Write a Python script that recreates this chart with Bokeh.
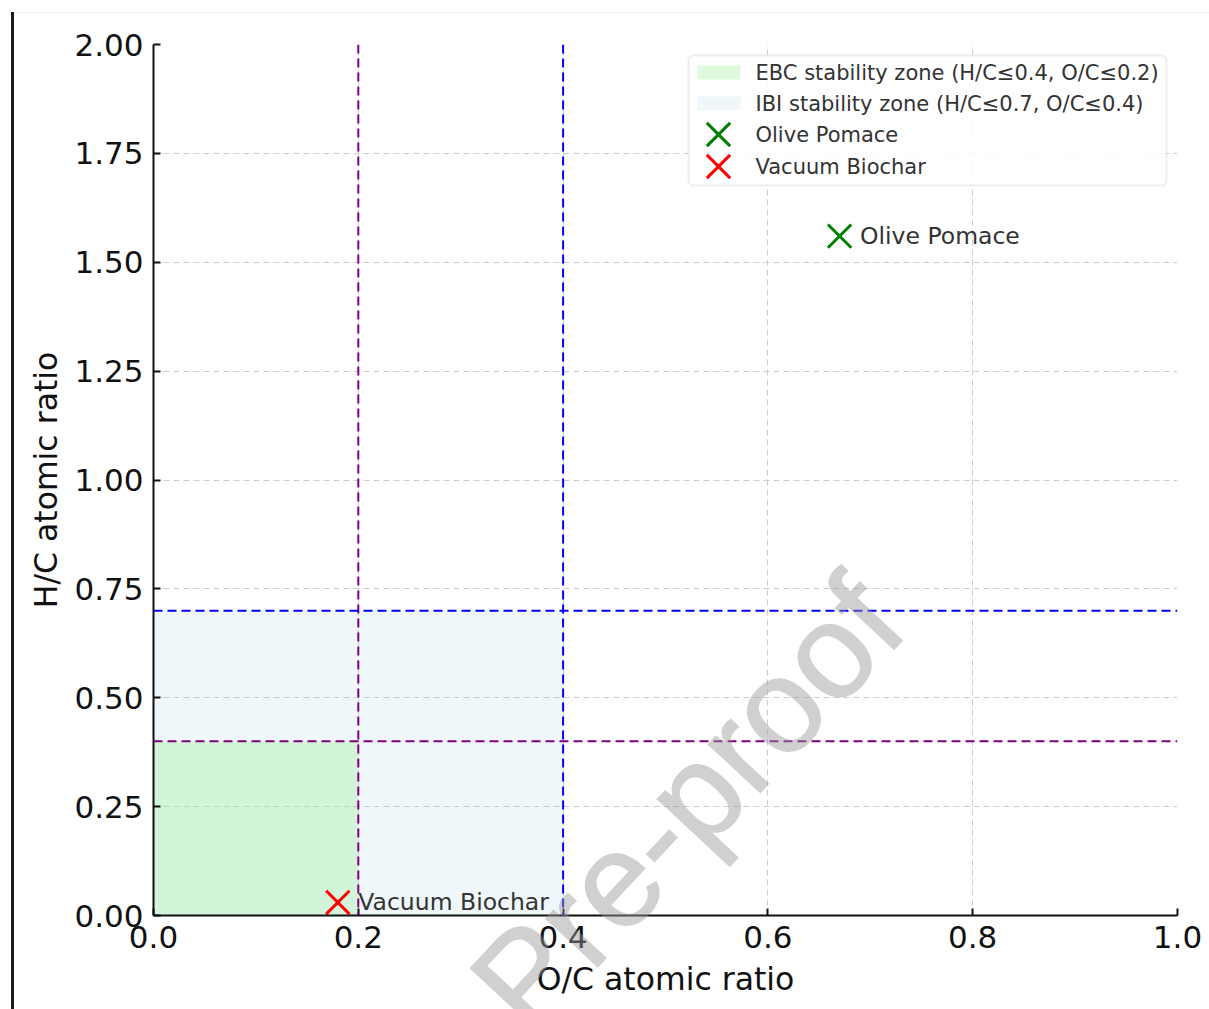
from bokeh.plotting import figure
from bokeh.models import (Span, Label, BoxAnnotation, FixedTicker, Range1d, Div,
                          GridBox, CustomJSTickFormatter)
from bokeh.embed import file_html
from bokeh.resources import INLINE
from bokeh.core.properties import value

# --- data -------------------------------------------------------------
samples = ["Olive Pomace", "Vacuum Biochar"]
oc_ratio = [0.67, 0.18]
hc_ratio = [1.56, 0.03]
sample_colors = ["green", "red"]

zone_names = ["EBC stability zone (H/C\u22640.4, O/C\u22640.2)",
              "IBI stability zone (H/C\u22640.7, O/C\u22640.4)"]
zone_oc_max = [0.2, 0.4]
zone_hc_max = [0.4, 0.7]
zone_fill = ["lightgreen", "lightblue"]
zone_alpha = [0.3, 0.2]
zone_line = ["purple", "blue"]

x_ticks = [0.0, 0.2, 0.4, 0.6, 0.8, 1.0]
y_ticks = [0.0, 0.25, 0.5, 0.75, 1.0, 1.25, 1.5, 1.75, 2.0]

FONT = "DejaVu Sans"
TEXT_DARK = "#333333"

# --- frame geometry (pixels inside the figure canvas) --------------------
FIG_W, FIG_H = 1209, 1009
B_LEFT, B_RIGHT, B_TOP, B_BOTTOM = 153, 32, 44, 94
FRAME_W = FIG_W - B_LEFT - B_RIGHT
FRAME_H = FIG_H - B_TOP - B_BOTTOM
X0, X1, Y0, Y1 = 0.0, 1.0, 0.0, 2.0


def fx(px):
    """horizontal pixel offset from frame left -> data x"""
    return X0 + px / FRAME_W * (X1 - X0)


def fy(py):
    """vertical pixel offset from frame top -> data y"""
    return Y1 - py / FRAME_H * (Y1 - Y0)


p = figure(width=FIG_W, height=FIG_H,
           x_range=Range1d(X0, X1), y_range=Range1d(Y0, Y1),
           output_backend="svg", toolbar_location=None,
           min_border_left=B_LEFT, min_border_right=B_RIGHT,
           min_border_top=B_TOP, min_border_bottom=B_BOTTOM,
           background_fill_color="white", border_fill_color="white",
           outline_line_color=None)

# axes
for ax in (p.xaxis[0], p.yaxis[0]):
    ax.axis_line_color = "#111111"
    ax.axis_line_width = 2
    ax.major_tick_in = 7
    ax.major_tick_out = 0
    ax.major_tick_line_width = 2
    ax.major_tick_line_color = "#111111"
    ax.minor_tick_line_color = None
    ax.major_label_text_font = FONT
    ax.major_label_text_font_size = "31px"
    ax.major_label_text_color = "#111111"
    ax.axis_label_text_font = FONT
    ax.axis_label_text_font_size = "31.5px"
    ax.axis_label_text_font_style = "normal"
    ax.axis_label_text_color = "#111111"

p.xaxis.ticker = FixedTicker(ticks=x_ticks)
p.yaxis.ticker = FixedTicker(ticks=y_ticks)
p.xaxis.formatter = CustomJSTickFormatter(code="return tick.toFixed(1)")
p.yaxis.formatter = CustomJSTickFormatter(code="return tick.toFixed(2)")
p.xaxis.major_label_standoff = 10
p.yaxis.major_label_standoff = 10
p.xaxis.axis_label = "O/C atomic ratio"
p.yaxis.axis_label = "H/C atomic ratio"
p.xaxis.axis_label_standoff = 10
p.yaxis.axis_label_standoff = 7

# grid
for g in (p.xgrid[0], p.ygrid[0]):
    g.grid_line_color = "#cccccc"
    g.grid_line_dash = "6 4"
    g.grid_line_width = 1

# stability zones (wider IBI zone underneath EBC)
for i in reversed(range(len(zone_names))):
    p.quad(left=[0], right=[zone_oc_max[i]], bottom=[0], top=[zone_hc_max[i]],
           fill_color=zone_fill[i], fill_alpha=zone_alpha[i], line_color=None)

# zone limit lines
for i in range(len(zone_names)):
    p.add_layout(Span(location=zone_oc_max[i], dimension="height",
                      line_color=zone_line[i], line_dash="9 5", line_width=2))
    p.add_layout(Span(location=zone_hc_max[i], dimension="width",
                      line_color=zone_line[i], line_dash="9 5", line_width=2))

# samples
MARKER_SIZE = 33
p.scatter(oc_ratio, hc_ratio, marker="x", size=MARKER_SIZE, line_width=3,
          color=sample_colors)
p.text(x=[v + 0.02 for v in oc_ratio], y=hc_ratio, text=samples,
       text_font=value(FONT), text_font_size="23.5px", text_color=TEXT_DARK,
       text_baseline="alphabetic", text_align="left")

# legend box (top right)
LEG_L, LEG_R, LEG_T, LEG_B = 535, 1013, 11, 141
p.add_layout(BoxAnnotation(left=fx(LEG_L), right=fx(LEG_R), top=fy(LEG_T), bottom=fy(LEG_B),
                           fill_color="white", fill_alpha=0.85,
                           line_color="#c8c8c8", line_width=2,
                           border_radius=5, level="underlay"))
row_centers = [28, 59, 90, 122]
SW_L, SW_R, SW_H = 544, 587, 14
MK_X = 565
TXT_X = 602
for i, name in enumerate(zone_names):
    rc = row_centers[i]
    p.add_layout(BoxAnnotation(left=fx(SW_L), right=fx(SW_R),
                               top=fy(rc - SW_H / 2), bottom=fy(rc + SW_H / 2),
                               fill_color=zone_fill[i], fill_alpha=zone_alpha[i],
                               line_color=None, level="underlay"))
for j, name in enumerate(samples):
    rc = row_centers[len(zone_names) + j]
    p.scatter([fx(MK_X)], [fy(rc)], marker="x", size=MARKER_SIZE, line_width=3,
              color=sample_colors[j])
legend_labels = zone_names + samples
for i, name in enumerate(legend_labels):
    p.add_layout(Label(x=fx(TXT_X), y=fy(row_centers[i]), text=name,
                       text_font=FONT, text_font_size="21px",
                       text_color=TEXT_DARK, text_baseline="middle"))

# transparent sheet stacked over the chart: page edge rules and watermark
WM_X, WM_Y, WM_ANGLE = 687, 803, 47
sheet_svg = (
    f'<svg xmlns="http://www.w3.org/2000/svg" width="{FIG_W}" height="{FIG_H}" '
    f'style="display:block;pointer-events:none">'
    f'<rect x="11" y="12" width="3" height="{FIG_H - 12}" fill="#1c1c1c"/>'
    f'<rect x="14" y="12" width="{FIG_W - 14}" height="1" fill="#eeeeee"/>'
    f'<g opacity="0.45">'
    f'<text x="{WM_X}" y="{WM_Y}" transform="rotate(-{WM_ANGLE} {WM_X} {WM_Y})" '
    f'text-anchor="middle" dominant-baseline="central" '
    f'font-family="Liberation Sans" font-size="134" '
    f'fill="#999999" stroke="#999999" stroke-width="1.5">Pre-proof</text>'
    f'</g></svg>'
)
sheet = Div(text=sheet_svg, width=FIG_W, height=FIG_H, margin=0,
            styles={"z-index": "10", "pointer-events": "none"})

layout = GridBox(children=[(p, 0, 0), (sheet, 0, 0)])
open("out.html", "w").write(file_html(layout, INLINE))
